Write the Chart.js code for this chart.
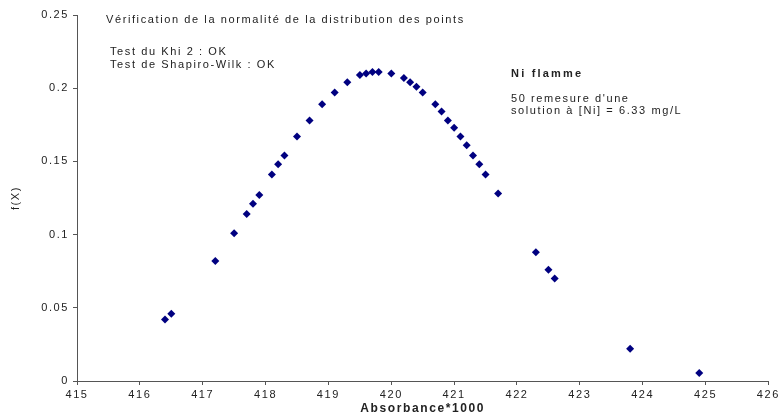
<!DOCTYPE html>
<html>
<head>
<meta charset="utf-8">
<script src="https://cdn.jsdelivr.net/npm/chart.js@4/dist/chart.umd.min.js"></script>
<style>
  html, body { margin: 0; padding: 0; background: #fff; }
  #c { display: block; }
</style>
</head>
<body>
<canvas id="c" width="783" height="418"></canvas>
<script>
// absorbance*1000 and density values
const absorbance = [
  416.4, 416.5, 417.2, 417.5, 417.7, 417.8, 417.9, 418.1, 418.2, 418.3,
  418.5, 418.7, 418.9, 419.1, 419.3, 419.5, 419.6, 419.7, 419.8, 420.0,
  420.2, 420.3, 420.4, 420.5, 420.7, 420.8, 420.9, 421.0, 421.1, 421.2,
  421.3, 421.4, 421.5, 421.7, 422.3, 422.5, 422.6, 423.8, 424.9
];
const density = [
  0.042, 0.046, 0.082, 0.101, 0.114, 0.121, 0.127, 0.141, 0.148, 0.154,
  0.167, 0.178, 0.189, 0.197, 0.204, 0.209, 0.210, 0.211, 0.211, 0.210,
  0.207, 0.204, 0.201, 0.197, 0.189, 0.184, 0.178, 0.173, 0.167, 0.161,
  0.154, 0.148, 0.141, 0.128, 0.088, 0.076, 0.070, 0.022, 0.0055
];
const xTicks = [415, 416, 417, 418, 419, 420, 421, 422, 423, 424, 425, 426];
const yTicks = [0, 0.05, 0.1, 0.15, 0.2, 0.25];

const FONT = '"Liberation Sans", Arial, sans-serif';
const TXT = '#222';
const AXIS = '#555';
const SPACING = '1.6px';   // excel-ish wide text

// free text boxes of the original sheet
const notes = [
  { text: 'Vérification de la normalité de la distribution des points', x: 106, y: 20, bold: false },
  { text: 'Test du Khi 2 : OK', x: 110, y: 52, bold: false },
  { text: 'Test de Shapiro-Wilk : OK', x: 110, y: 65, bold: false },
  { text: 'Ni flamme', x: 511, y: 74, bold: true },
  { text: "50 remesure d'une", x: 511, y: 99, bold: false },
  { text: 'solution à [Ni] = 6.33 mg/L', x: 511, y: 111, bold: false }
];

const spacingPlugin = {
  id: 'spacing',
  beforeLayout(chart) { chart.ctx.letterSpacing = SPACING; },
  beforeDraw(chart) { chart.ctx.letterSpacing = SPACING; }
};

const notesPlugin = {
  id: 'notes',
  afterDraw(chart) {
    const ctx = chart.ctx;
    ctx.save();
    ctx.fillStyle = TXT;
    ctx.textBaseline = 'middle';
    ctx.textAlign = 'left';
    notes.forEach(n => {
      ctx.font = (n.bold ? 'bold ' : '') + '11px ' + FONT;
      ctx.letterSpacing = n.bold ? '2.2px' : SPACING;
      ctx.fillText(n.text, n.x, n.y);
    });
    ctx.restore();
  }
};

new Chart(document.getElementById('c'), {
  type: 'scatter',
  data: {
    datasets: [{
      data: absorbance.map((x, i) => ({ x, y: density[i] })),
      pointStyle: 'rectRot',
      pointRadius: 4,
      pointHoverRadius: 4,
      backgroundColor: '#000080',
      borderColor: '#000080',
      borderWidth: 0
    }]
  },
  options: {
    responsive: false,
    animation: false,
    events: [],
    layout: { padding: { left: 9, top: 15, right: 13, bottom: 0 } },
    plugins: { legend: { display: false }, tooltip: { enabled: false } },
    scales: {
      x: {
        type: 'linear', min: 415, max: 426,
        afterBuildTicks: s => { s.ticks = xTicks.map(v => ({ value: v })); },
        afterFit: s => { s.height = 37; },
        grid: { drawOnChartArea: false, tickLength: 4, color: AXIS },
        border: { color: AXIS },
        ticks: { color: TXT, font: { family: FONT, size: 11 }, padding: 3, maxRotation: 0 },
        title: { display: true, text: 'Absorbance*1000', color: TXT, font: { family: FONT, size: 12, weight: 'bold' }, padding: { top: 1, bottom: 2 } }
      },
      y: {
        type: 'linear', min: 0, max: 0.25,
        afterBuildTicks: s => { s.ticks = yTicks.map(v => ({ value: v })); },
        afterFit: s => { s.width = 68; },
        grid: { drawOnChartArea: false, tickLength: 4, color: AXIS },
        border: { color: AXIS },
        ticks: { color: TXT, font: { family: FONT, size: 11 }, padding: 4, callback: v => String(v) },
        title: { display: true, text: 'f(X)', color: TXT, font: { family: FONT, size: 11 }, padding: { top: 0, bottom: 0 } }
      }
    }
  },
  plugins: [spacingPlugin, notesPlugin]
});
</script>
</body>
</html>
